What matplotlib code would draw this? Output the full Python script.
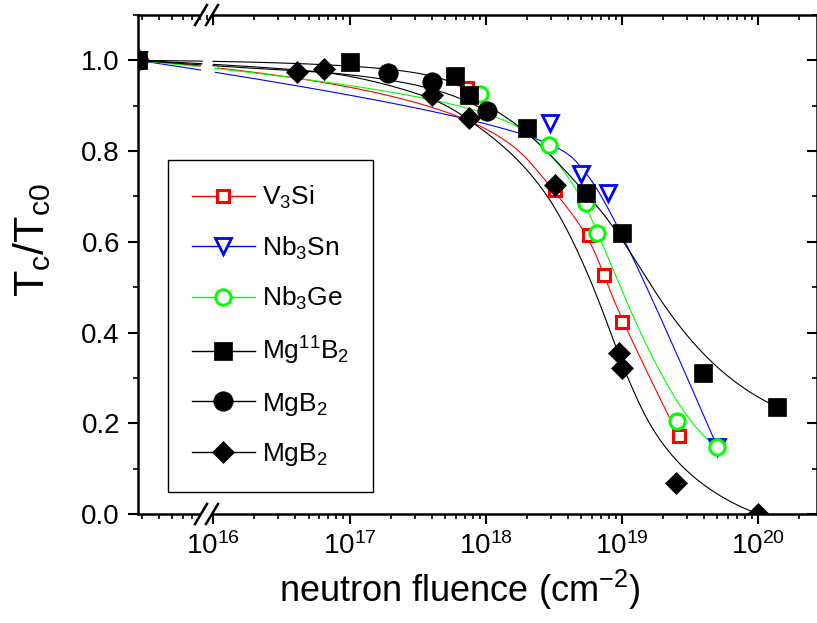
import numpy as np
import matplotlib
matplotlib.use("Agg")
from matplotlib import pyplot as plt
from matplotlib.lines import Line2D
from matplotlib.ticker import LogLocator, LogFormatterMathtext, MultipleLocator, FormatStrFormatter, NullFormatter

plt.rcParams['font.family'] = ['Liberation Sans', 'DejaVu Sans']
plt.rcParams['mathtext.fontset'] = 'custom'
plt.rcParams['mathtext.rm'] = 'Liberation Sans'
plt.rcParams['mathtext.it'] = 'Liberation Sans'
plt.rcParams['mathtext.default'] = 'regular'

# fluence 0 = unirradiated sample, drawn on the left edge (before the axis break)
v3si_x = [0, 7.3e17, 3.2e18, 5.7e18, 7.4e18, 1.0e19, 2.6e19]
v3si_y = [1.0, 0.94, 0.714, 0.614, 0.526, 0.423, 0.172]

nb3sn_x = [0, 2.95e18, 5.0e18, 7.9e18, 5.0e19]
nb3sn_y = [1.0, 0.863, 0.749, 0.707, 0.148]

nb3ge_x = [0, 9.1e17, 2.9e18, 5.4e18, 6.6e18, 2.55e19, 5.0e19]
nb3ge_y = [1.0, 0.925, 0.813, 0.685, 0.619, 0.205, 0.148]

mg11b2_x = [0, 1.0e17, 5.9e17, 7.5e17, 2.0e18, 5.4e18, 1.0e19, 3.9e19, 1.38e20]
mg11b2_y = [1.0, 0.996, 0.965, 0.923, 0.852, 0.707, 0.619, 0.311, 0.236]

mgb2a_x = [0, 1.9e17, 4.0e17, 1.02e18]
mgb2a_y = [1.0, 0.973, 0.952, 0.888]

mgb2b_x = [0, 4.1e16, 6.5e16, 4.0e17, 7.5e17, 3.2e18, 9.5e18, 1.0e19, 2.5e19, 1.0e20]
mgb2b_y = [1.0, 0.974, 0.982, 0.923, 0.872, 0.725, 0.355, 0.322, 0.068, 0.0]

labels = ['V$_3$Si', 'Nb$_3$Sn', 'Nb$_3$Ge', 'Mg$^{11}$B$_2$', 'MgB$_2$', 'MgB$_2$']

XMIN, XMAX = 2.8e15, 2.7e20
GAP = (10**15.92, 10**15.995)


def bspline(x, y, deg=3, num=600):
    """clamped uniform B-spline with the points as control points (log x space)"""
    x = np.asarray(x, float)
    L = np.log10(np.where(x == 0, XMIN, x))
    P = np.column_stack([L, y])
    n = len(P)
    p = min(deg, n - 1)
    inner = np.linspace(0, 1, n - p + 1)[1:-1]
    t = np.concatenate([np.zeros(p + 1), inner, np.ones(p + 1)])
    u = np.linspace(0, 1, num)
    u[-1] = 1 - 1e-12
    # Cox-de Boor
    N = np.array([((u >= t[i]) & (u < t[i + 1])).astype(float) for i in range(len(t) - 1)])
    for k in range(1, p + 1):
        Nk = np.zeros((len(t) - 1 - k, num))
        for i in range(len(t) - 1 - k):
            d1 = t[i + k] - t[i]
            d2 = t[i + k + 1] - t[i + 1]
            if d1 > 0:
                Nk[i] += (u - t[i]) / d1 * N[i]
            if d2 > 0:
                Nk[i] += (t[i + k + 1] - u) / d2 * N[i + 1]
        N = Nk
    C = N.T @ P
    xs = 10 ** C[:, 0]
    ys = C[:, 1].copy()
    ys[(xs > GAP[0]) & (xs < GAP[1])] = np.nan
    return xs, ys


fig = plt.figure(figsize=(8.17, 6.23), dpi=100)
ax = fig.add_axes([138 / 817, 1 - 514 / 623, 679 / 817, 499 / 623])

series = [
    (v3si_x, v3si_y, 'red', 's', 9, 'white', 2.2),
    (nb3sn_x, nb3sn_y, 'blue', 'v', 12, 'white', 2.0),
    (nb3ge_x, nb3ge_y, '#00ff00', 'o', 11, 'white', 2.2),
    (mg11b2_x, mg11b2_y, 'black', 's', 13, 'black', 0.5),
    (mgb2a_x, mgb2a_y, 'black', 'o', 14, 'black', 0.5),
    (mgb2b_x, mgb2b_y, 'black', 'D', 11.5, 'black', 0.5),
]
order = [1, 0, 2, 3, 4, 5]

for k in order:
    x, y, col, mk, ms, mfc, mew = series[k]
    xs, ys = bspline(x, y)
    ax.plot(xs, ys, color=col, lw=0.8, zorder=2)
for k in order:
    x, y, col, mk, ms, mfc, mew = series[k]
    xp = np.where(np.asarray(x) == 0, XMIN, x)
    ax.plot(xp, y, linestyle='none', marker=mk, ms=ms, mfc=mfc, mec=col, mew=mew, zorder=3)

ax.set_xscale('log')
ax.set_xlim(XMIN, XMAX)
ax.set_ylim(0, 1.1)
ax.xaxis.set_major_locator(LogLocator(base=10, numticks=20))
ax.xaxis.set_minor_locator(LogLocator(base=10, subs=np.arange(2, 10), numticks=20))
ax.xaxis.set_major_formatter(LogFormatterMathtext())
ax.xaxis.set_minor_formatter(NullFormatter())
ax.yaxis.set_major_locator(MultipleLocator(0.2))
ax.yaxis.set_minor_locator(MultipleLocator(0.1))
ax.yaxis.set_major_formatter(FormatStrFormatter('%.1f'))

for s in ax.spines.values():
    s.set_linewidth(1.8)
ax.tick_params(which='major', direction='out', length=7, width=1.5, labelsize=20, pad=6)
ax.tick_params(which='minor', direction='out', length=3.6, width=1.2)

# mirrored ticks on top and right, pointing inward
top = ax.twiny()
top.set_xscale('log')
top.set_xlim(XMIN, XMAX)
top.xaxis.set_major_locator(LogLocator(base=10, numticks=20))
top.xaxis.set_minor_locator(LogLocator(base=10, subs=np.arange(2, 10), numticks=20))
top.tick_params(which='both', direction='in', labeltop=False)
top.tick_params(which='major', length=7, width=1.5)
top.tick_params(which='minor', length=3.6, width=1.2)
right = ax.twinx()
right.set_ylim(0, 1.1)
right.yaxis.set_major_locator(MultipleLocator(0.2))
right.yaxis.set_minor_locator(MultipleLocator(0.1))
right.tick_params(which='both', direction='in', labelright=False)
right.tick_params(which='major', length=7, width=1.5)
right.tick_params(which='minor', length=3.6, width=1.2)
for a in (top, right):
    for s in a.spines.values():
        s.set_visible(False)

# axis break marks
px, py = 1 / 679, 1 / 499
for yb in (0, 1):
    xa, xb = (201 - 138) * px, (212 - 138) * px
    dx, dy = 6 * px, 10 * py
    ax.fill([xa - dx, xb - dx, xb + dx, xa + dx], [yb - dy, yb - dy, yb + dy, yb + dy],
            color='white', transform=ax.transAxes, clip_on=False, zorder=5)
    for xc in (xa, xb):
        ax.plot([xc - dx, xc + dx], [yb - dy, yb + dy], color='black', lw=1.8,
                transform=ax.transAxes, clip_on=False, zorder=6)

ax.set_xlabel('neutron fluence (cm$^{-2}$)', fontsize=26, labelpad=6)
ax.xaxis.label.set_x(0.474)
ax.set_ylabel('T$_c$/T$_{c0}$', fontsize=31, labelpad=20)
ax.yaxis.label.set_y(0.55)

handles = []
for k in range(6):
    x, y, col, mk, ms, mfc, mew = series[k]
    handles.append(Line2D([0], [0], color=col, lw=1, marker=mk, ms=ms, mfc=mfc, mec=col, mew=mew))
leg = ax.legend(handles, labels, loc='upper left', bbox_to_anchor=(0.044, 0.709), fontsize=19,
                frameon=True, fancybox=False, edgecolor='black', framealpha=1,
                handlelength=2.4, handletextpad=0.25, labelspacing=0.88, borderpad=0.9,
                borderaxespad=0)
leg.get_frame().set_linewidth(1.0)
leg.set_zorder(10)

fig.savefig('out.png', dpi=100)
